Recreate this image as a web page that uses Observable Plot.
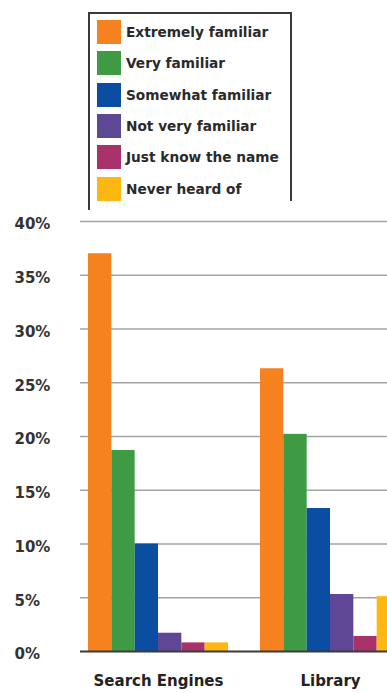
<!DOCTYPE html>
<html><head><meta charset="utf-8">
<script src="https://cdn.jsdelivr.net/npm/d3@7"></script>
<script src="https://cdn.jsdelivr.net/npm/@observablehq/plot@0.6"></script>
<style>
html,body{margin:0;padding:0;background:#fff;overflow:hidden;width:387px;height:693px;}
#wrap{position:relative;width:387px;height:693px;overflow:hidden;background:#fff;}
#chart{position:absolute;left:0;top:200px;width:387px;height:493px;overflow:hidden;}
#legend{position:absolute;left:88px;top:12px;width:204px;height:198px;border-top:2px solid #3a3a3a;border-left:2px solid #3a3a3a;box-sizing:border-box;z-index:2;font-family:'DejaVu Sans',sans-serif;}
#legend .rline{position:absolute;right:0;top:-2px;width:2px;height:189px;background:#3a3a3a;}
#legend .row{position:absolute;left:7px;height:24px;display:flex;align-items:center;}
#legend .sw{width:24px;height:24px;margin-right:5px;flex:none;}
#legend .lab{font-size:13.7px;font-weight:bold;color:#2a2a2a;white-space:nowrap;line-height:24px;}
</style>
</head><body>
<div id="wrap">
  <div id="legend"><div class="rline"></div></div>
  <div id="chart"></div>
</div>
<script>
const groups = ["Search Engines", "Library"];
const series = ["Extremely familiar", "Very familiar", "Somewhat familiar", "Not very familiar", "Just know the name", "Never heard of"];
const colors = ["#F5821F", "#3E9B43", "#0A4DA1", "#5E4896", "#A8336A", "#FDB713"];
const searchEngines = [37, 18.7, 10, 1.7, 0.8, 0.8];
const library = [26.3, 20.2, 13.3, 5.3, 1.4, 5.1];
const yTicks = [0, 5, 10, 15, 20, 25, 30, 35, 40];

const valuesByGroup = [searchEngines, library];
const data = [];
groups.forEach((g, gi) => series.forEach((s, si) => data.push({group: g, series: s, value: valuesByGroup[gi][si]})));

// legend
const legend = document.getElementById("legend");
series.forEach((s, i) => {
  const row = document.createElement("div");
  row.className = "row";
  row.style.top = (6 + i * 31.3) + "px";
  const sw = document.createElement("div");
  sw.className = "sw";
  sw.style.background = colors[i];
  const lab = document.createElement("span");
  lab.className = "lab";
  lab.textContent = s;
  row.appendChild(sw); row.appendChild(lab);
  legend.appendChild(row);
});

const bw = 140 / 6;
const chart = Plot.plot({
  width: 420,
  height: 493,
  marginLeft: 80,
  marginRight: 12,
  marginTop: 21,
  marginBottom: 42,
  x: {type: "band", domain: groups, paddingInner: 32 / 172, paddingOuter: 8 / 172, axis: null},
  y: {domain: [0, 40], axis: null},
  style: {fontFamily: "'DejaVu Sans', sans-serif", maxWidth: "none", overflow: "hidden", background: "transparent"},
  marks: [
    Plot.ruleY(yTicks.filter(t => t > 0), {stroke: "#a3a3a3", strokeWidth: 1.3}),
    ...series.map((s, i) => Plot.barY(data.filter(d => d.series === s), {
      x: "group", y: "value", fill: colors[i], insetLeft: i * bw, insetRight: (5 - i) * bw
    })),
    Plot.ruleY([0], {stroke: "#3a3a3a", strokeWidth: 2}),
    Plot.text(yTicks, {y: d => d, text: d => d + "%", frameAnchor: "left", textAnchor: "start", dx: -66, dy: 3, fontSize: 15, fontWeight: "bold", fill: "#333"}),
    Plot.text(groups, {x: d => d, text: d => d, frameAnchor: "bottom", dy: 34, fontSize: 15, fontWeight: "bold", fill: "#222"})
  ]
});
document.getElementById("chart").appendChild(chart);
</script>
</body></html>
